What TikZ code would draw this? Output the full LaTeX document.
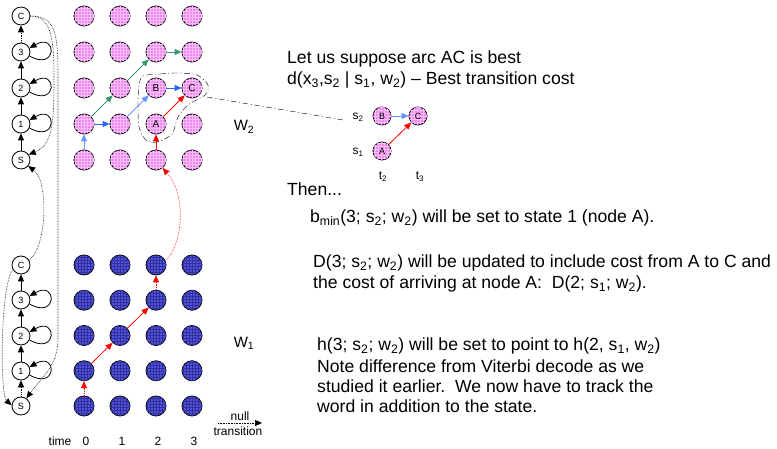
\documentclass[tikz,border=0pt]{standalone}
\usepackage{fontspec}
\setmainfont{Liberation Sans}
\usetikzlibrary{arrows.meta,patterns}
\definecolor{pinkfill}{RGB}{240,135,240}
\definecolor{pinkgrid}{RGB}{250,190,250}
\definecolor{bluefill}{RGB}{80,80,225}
\definecolor{bluegrid}{RGB}{50,50,150}
\definecolor{greenarr}{RGB}{60,150,110}
\definecolor{bluearr}{RGB}{40,100,245}
\definecolor{lbluearr}{RGB}{100,150,255}
\definecolor{redarr}{RGB}{255,0,0}
\begin{document}
\begin{tikzpicture}[x=1pt,y=-1pt,
  tip/.tip={Triangle[length=7pt,width=6pt]},
  chainnode/.style={circle,draw,thick,fill=white,minimum size=18pt,inner sep=0pt,font=\fontsize{9}{9}\selectfont},
  pinknode/.style={circle,draw,thick,fill=pinkfill,postaction={pattern=grid,pattern color=pinkgrid},minimum size=20pt,inner sep=0pt,font=\fontsize{10}{10}\selectfont},
  bluenode/.style={circle,draw,thick,fill=bluefill,postaction={pattern=grid,pattern color=bluegrid},minimum size=20pt,inner sep=0pt},
  smallpink/.style={circle,draw,thick,fill=pinkfill,postaction={pattern=grid,pattern color=pinkgrid},minimum size=18pt,inner sep=0pt,font=\fontsize{9}{9}\selectfont},
  blk/.style={-tip,thick},
  blkdot/.style={-tip,thick,densely dotted},
  thindot/.style={-tip,densely dotted,semithick},
  redl/.style={-tip,thick,redarr},
  reddot/.style={-tip,thick,redarr,densely dotted},
  bluel/.style={-tip,thick,bluearr},
  greenl/.style={-tip,thick,greenarr},
  dd/.style={thin,dash pattern=on 6pt off 2.5pt on 1pt off 2.5pt},
  txt/.style={anchor=west,inner sep=0pt,font=\fontsize{17.6}{17.6}\selectfont},
  smalltxt/.style={inner sep=0pt,font=\fontsize{12}{12}\selectfont}
]
\useasboundingbox (0,0) rectangle (777,449);

% left chains
\foreach \p/\y in {C/16,3/52,2/88,1/124,S/160}{
  \node[chainnode] (u-\p) at (21,\y) {\p};
}
\foreach \p/\y in {C/265,3/300,2/336,1/371,S/406}{
  \node[chainnode] (l-\p) at (21,\y) {\p};
}
\draw[blk] (u-S) -- (u-1);
\draw[blk] (u-1) -- (u-2);
\draw[blk] (u-2) -- (u-3);
\draw[blkdot] (u-3) -- (u-C);
\draw[blkdot] (l-S) -- (l-1);
\draw[blk] (l-1) -- (l-2);
\draw[blk] (l-2) -- (l-3);
\draw[blk] (l-3) -- (l-C);
\foreach \n in {u-3,u-2,u-1,l-3,l-2,l-1}{
  \draw[blk] (\n.-25) .. controls +(28,16) and +(28,-16) .. (\n.25);
}

% long dotted curves
\draw[thindot] (u-C.east) .. controls (52,16) and (54,40) .. (54,80)
   .. controls (54,125) and (52,145) .. (u-S.35);
\draw[thindot] (u-C.east) .. controls (60,16) and (58,40) .. (58,100)
   -- (58,340) .. controls (58,365) and (40,380) .. (l-S.55);
\draw[thindot] (l-C.30) .. controls (48,245) and (48,180) .. (u-S.-40);
\draw[thindot] (l-C.210) .. controls (0,285) and (0,395) .. (l-S.175);

% grids
\foreach \i in {0,1,2,3}{
  \foreach \j in {0,1,2,3,4}{
    \pgfmathsetmacro{\xx}{84+36*\i}
    \pgfmathsetmacro{\yl}{406-35.25*\j}
    \node[bluenode] (w1-\i-\j) at (\xx,\yl) {};
  }
}
\foreach \i/\j/\t in {0/0/,0/1/,0/2/,0/3/,0/4/,1/0/,1/1/,1/2/,1/3/,1/4/,2/0/,2/1/A,2/2/B,2/3/,2/4/,3/0/,3/1/,3/2/C,3/3/,3/4/}{
  \pgfmathsetmacro{\xx}{84+36*\i}
  \pgfmathsetmacro{\yy}{160-36*\j}
  \node[pinknode] (w2-\i-\j) at (\xx,\yy) {\t};
}

% W2 arrows
\draw[-tip,thick,lbluearr] (w2-0-0) -- (w2-0-1);
\draw[bluel] (w2-0-1) -- (w2-1-1);
\draw[-tip,thick,lbluearr] (w2-1-1) -- (w2-2-2);
\draw[bluel] (w2-2-2) -- (w2-3-2);
\draw[greenl] (w2-0-1) -- (w2-1-2);
\draw[greenl] (w2-1-2) -- (w2-2-3);
\draw[greenl] (w2-2-3) -- (w2-3-3);
\draw[redl] (w2-2-0) -- (w2-2-1);
\draw[redl] (w2-2-1) -- (w2-3-2);
% W1 arrows
\draw[reddot] (w1-0-0) -- (w1-0-1);
\draw[redl] (w1-0-1) -- (w1-1-2);
\draw[redl] (w1-1-2) -- (w1-2-3);
\draw[reddot] (w1-2-3) -- (w1-2-4);
\draw[-tip,semithick,redarr,densely dotted] (w1-2-4.20) .. controls (184,240) and (186,195) .. (w2-2-0.-50);

% blob
\draw[dd] plot[smooth cycle] coordinates {(143,76) (160,74) (178,73) (197,75) (208,85) (205,95) (188,105) (178,117) (172,134) (157,142) (146,140) (139,127) (138,105) (139,86)};
\coordinate (blobR) at (207,97);
\coordinate (insetL) at (343,120);
\draw[dd] (blobR) -- (insetL);

% labels
\node[inner sep=0pt,font=\fontsize{15}{15}\selectfont] (lw2) at (244,127) {W\textsubscript{2}};
\node[inner sep=0pt,font=\fontsize{15}{15}\selectfont] (lw1) at (244,343) {W\textsubscript{1}};

% inset
\node[smallpink] (iB) at (382,116) {B};
\node[smallpink] (iC) at (418,116) {C};
\node[smallpink] (iA) at (382,151) {A};
\draw[-tip,thick,lbluearr] (iB) -- (iC);
\draw[redl] (iA) -- (iC);
\node[smalltxt] (ls2) at (358,117) {s\textsubscript{2}};
\node[smalltxt] (ls1) at (358,152) {s\textsubscript{1}};
\node[smalltxt] (lt2) at (383,177) {t\textsubscript{2}};
\node[smalltxt] (lt3) at (420,177) {t\textsubscript{3}};

% text
\node[txt] (t1) at (287,59) {Let us suppose arc AC is best};
\node[txt] (t2) at (287,80) {d(x\textsubscript{3},s\textsubscript{2} | s\textsubscript{1}, w\textsubscript{2}) -- Best transition cost};
\node[txt] (t3) at (287,189) {Then...};
\node[txt] (t4) at (310,218) {b\textsubscript{min}(3; s\textsubscript{2}; w\textsubscript{2}) will be set to state 1 (node A).};
\node[txt] (t5) at (313,263) {D(3; s\textsubscript{2}; w\textsubscript{2}) will be updated to include cost from A to C and};
\node[txt] (t6) at (313,284) {the cost of arriving at node A:\ \ D(2; s\textsubscript{1}; w\textsubscript{2}).};
\node[txt] (t7) at (317,346) {h(3; s\textsubscript{2}; w\textsubscript{2}) will be set to point to h(2, s\textsubscript{1}, w\textsubscript{2})};
\node[txt] (t8) at (317,366) {Note difference from Viterbi decode as we};
\node[txt] (t9) at (317,386) {studied it earlier.\ \ We now have to track the};
\node[txt] (t10) at (317,406) {word in addition to the state.};

% bottom axis
\node[smalltxt] (time) at (60,441) {time};
\foreach \i in {0,1,2,3}{
  \pgfmathsetmacro{\xx}{86+36*\i}
  \node[smalltxt] (tn\i) at (\xx,441) {\i};
}
\node[smalltxt] (null) at (240,416) {null};
\node[smalltxt] (trans) at (238,431) {transition};
\coordinate (na) at (218,423);
\coordinate (nb) at (262,423);
\draw[-tip,densely dotted,semithick] (na) -- (nb);
\end{tikzpicture}
\end{document}
